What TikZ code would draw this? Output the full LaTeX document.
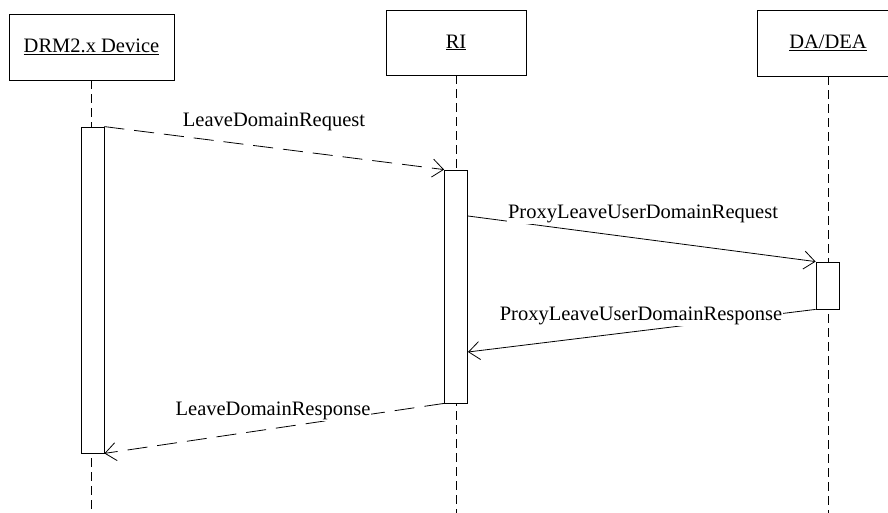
\documentclass[tikz,border=0pt]{standalone}
\usepackage{fontspec}
\setmainfont{Liberation Serif}
\usetikzlibrary{arrows.meta}
\begin{document}
\begin{tikzpicture}[x=1pt,y=-1pt,line width=0.8pt,
  font=\fontsize{20.5}{24}\selectfont,
  head/.style={draw,minimum height=66pt,inner sep=0pt},
  act/.style={draw,fill=white,minimum width=23pt,inner sep=0pt},
  life/.style={dash pattern=on 9pt off 5pt},
  msg/.style={-{Straight Barb[length=11pt,width=18pt]}},
  reply/.style={msg,dash pattern=on 20pt off 10pt},
  lbl/.style={fill=white,inner xsep=1pt,inner ysep=1.5pt,anchor=base}]
\useasboundingbox (0,0) rectangle (888,513);

\node[head,minimum width=165pt] (dev) at (91.5,47) {\underline{DRM2.x Device}};
\node[head,minimum width=140pt,minimum height=65pt] (ri) at (456,42.5) {\underline{RI}};
\node[head,minimum width=142pt] (da) at (828,43) {\underline{DA/DEA}};

\coordinate (devend) at (91.5,513);
\coordinate (riend) at (456,513);
\coordinate (daend) at (828,513);
\draw[life] (dev.south) -- (devend);
\draw[life] (ri.south) -- (riend);
\draw[life] (da.south) -- (daend);

\node[act,minimum height=326pt] (adev) at (92.5,290) {};
\node[act,minimum height=233pt] (ari) at (456,286.5) {};
\node[act,minimum height=47pt] (ada) at (827.5,285.5) {};

\coordinate (q1) at (468,216);
\coordinate (q2) at (468,352);

\draw[reply] (adev.north east) -- (ari.north west);
\draw[msg] (q1) -- (ada.north west);
\draw[msg] (ada.south west) -- (q2);
\draw[reply] (ari.south west) -- (adev.south east);

\node[lbl] (l1) at (274,127) {LeaveDomainRequest};
\node[lbl] (l2) at (643,218) {ProxyLeaveUserDomainRequest};
\node[lbl] (l3) at (641,320) {ProxyLeaveUserDomainResponse};
\node[lbl] (l4) at (273,415) {LeaveDomainResponse};
\end{tikzpicture}
\end{document}
